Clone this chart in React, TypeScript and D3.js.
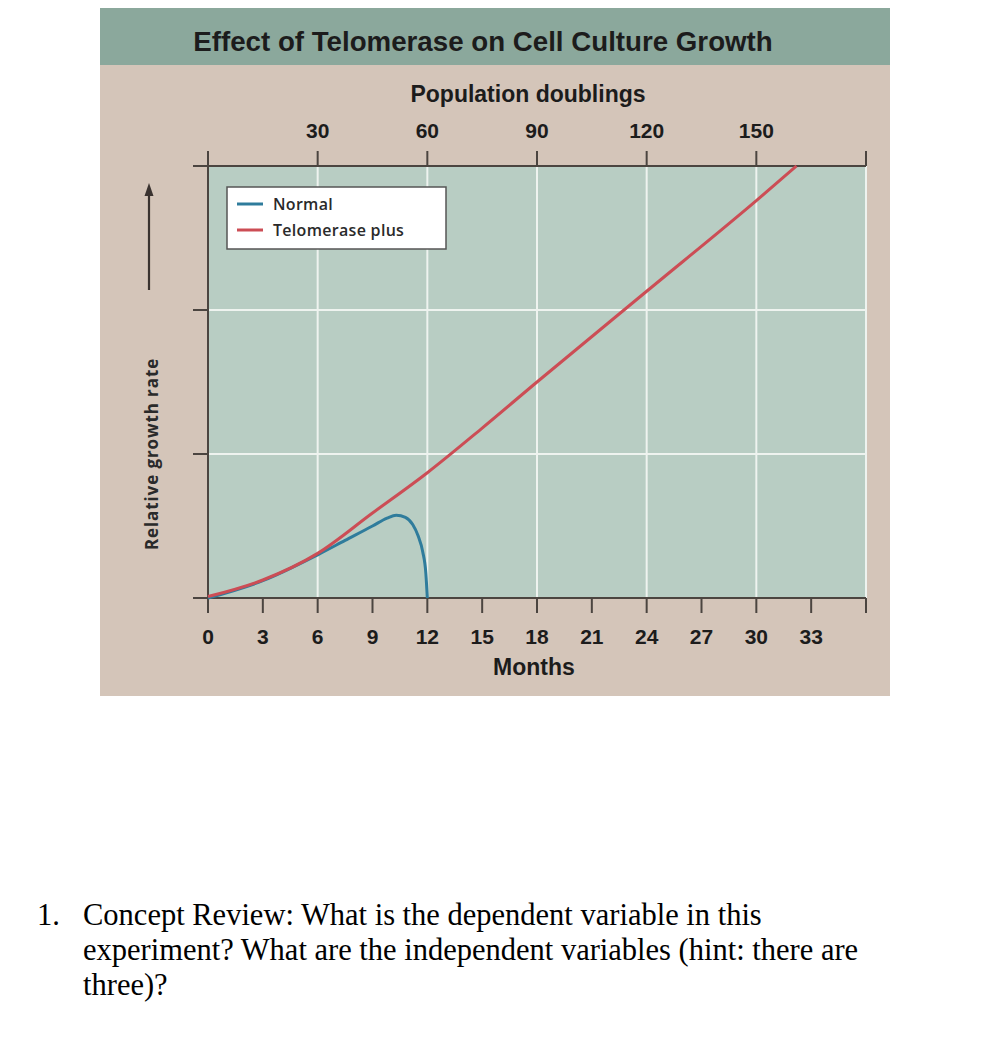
import React from "react";
import * as d3 from "d3";

const monthTicks = [0, 3, 6, 9, 12, 15, 18, 21, 24, 27, 30, 33, 36];
const doublingTicks = [0, 30, 60, 90, 120, 150, 180];
const rateTicks = [0, 1, 2, 3];

const normalMonths = [0, 3, 6, 7.5, 9, 9.8, 10.3, 10.8, 11.2, 11.5, 11.75, 11.92, 12];
const normalValues = [0, 0.12, 0.3, 0.4, 0.5, 0.555, 0.575, 0.56, 0.51, 0.43, 0.32, 0.17, 0];

const plusMonths = [0, 3, 6, 9, 12, 15, 18, 24, 30, 32.2];
const plusValues = [0.01, 0.125, 0.31, 0.59, 0.87, 1.18, 1.5, 2.13, 2.76, 3.0];

const seriesNames = ["Normal", "Telomerase plus"];
const seriesColors = ["#2f7c9c", "#cc4d55"];

const titleText = "Effect of Telomerase on Cell Culture Growth";
const questionLines = [
  "Concept Review: What is the dependent variable in this",
  "experiment? What are the independent variables (hint: there are",
  "three)?",
];

const sans = "'Liberation Sans', Arial, sans-serif";
const humanist = "'Open Sans', 'Noto Sans', sans-serif";

export default function App() {
  const left = 208, right = 866, top = 166, bottom = 598;
  const x = d3.scaleLinear().domain([0, 36]).range([left, right]);
  const xTop = d3.scaleLinear().domain([0, 180]).range([left, right]);
  const y = d3.scaleLinear().domain([0, 3]).range([bottom, top]);

  const line = d3
    .line<[number, number]>()
    .x((d) => x(d[0]))
    .y((d) => y(d[1]))
    .curve(d3.curveMonotoneX);

  const normalPts = normalMonths.map((m, i) => [m, normalValues[i]] as [number, number]);
  const plusPts = plusMonths.map((m, i) => [m, plusValues[i]] as [number, number]);

  const axisColor = "#4b4540";
  const grid = "#eef3ef";

  return (
    <svg
      width={1002}
      height={1058}
      style={{ position: "absolute", left: 0, top: 0 }}
    >
      <rect x={0} y={0} width={1002} height={1058} fill="#ffffff" />
      {/* panel */}
      <rect x={100} y={8} width={790} height={688} fill="#d4c5b9" />
      <rect x={100} y={8} width={790} height={57} fill="#8ba89c" />
      <text
        x={483}
        y={51}
        textAnchor="middle"
        fontFamily={sans}
        fontWeight="bold"
        fontSize={27.7}
        fill="#1c1c1c"
      >
        {titleText}
      </text>

      {/* plot area */}
      <rect x={left} y={top} width={right - left} height={bottom - top} fill="#b8cdc3" />
      {monthTicks
        .filter((m) => m > 0 && m % 6 === 0)
        .map((m) => (
          <line key={"gv" + m} x1={x(m)} x2={x(m)} y1={top} y2={bottom} stroke={grid} strokeWidth={2} />
        ))}
      {rateTicks
        .filter((r) => r > 0 && r < 3)
        .map((r) => (
          <line key={"gh" + r} x1={left} x2={right} y1={y(r)} y2={y(r)} stroke={grid} strokeWidth={2} />
        ))}

      {/* axes */}
      <line x1={193} x2={right} y1={top} y2={top} stroke={axisColor} strokeWidth={2} />
      <line x1={193} x2={right} y1={bottom} y2={bottom} stroke={axisColor} strokeWidth={2} />
      <line x1={left} x2={left} y1={152} y2={612} stroke={axisColor} strokeWidth={2} />
      {doublingTicks.map((d) => (
        <line key={"tt" + d} x1={xTop(d)} x2={xTop(d)} y1={top - 15} y2={top} stroke={axisColor} strokeWidth={2} />
      ))}
      {doublingTicks
        .filter((d) => d > 0 && d < 180)
        .map((d) => (
          <text
            key={"tl" + d}
            x={xTop(d)}
            y={138}
            textAnchor="middle"
            fontFamily={sans}
            fontWeight="bold"
            fontSize={21}
            fill="#1c1c1c"
          >
            {d}
          </text>
        ))}
      <text x={528} y={102} textAnchor="middle" fontFamily={sans} fontWeight="bold" fontSize={23} fill="#1c1c1c">
        Population doublings
      </text>
      {monthTicks.map((m) => (
        <line key={"bt" + m} x1={x(m)} x2={x(m)} y1={bottom} y2={bottom + 15} stroke={axisColor} strokeWidth={2} />
      ))}
      {monthTicks
        .filter((m) => m < 36)
        .map((m) => (
          <text
            key={"bl" + m}
            x={x(m)}
            y={644}
            textAnchor="middle"
            fontFamily={sans}
            fontWeight="bold"
            fontSize={21}
            fill="#1c1c1c"
          >
            {m}
          </text>
        ))}
      <text x={534} y={675} textAnchor="middle" fontFamily={sans} fontWeight="bold" fontSize={23} fill="#1c1c1c">
        Months
      </text>
      {rateTicks.map((r) => (
        <line key={"lt" + r} x1={193} x2={left} y1={y(r)} y2={y(r)} stroke={axisColor} strokeWidth={2} />
      ))}

      {/* y label + arrow */}
      <text
        transform="translate(158,454) rotate(-90)"
        textAnchor="middle"
        fontFamily={humanist}
        fontWeight="bold"
        fontSize={17}
        letterSpacing={0.9}
        fill="#2a2a2a"
      >
        Relative growth rate
      </text>
      <line x1={149} x2={149} y1={290} y2={194} stroke="#3a3330" strokeWidth={2.2} />
      <path d="M149,183 L144.5,196 L153.5,196 Z" fill="#3a3330" />

      {/* series */}
      <path d={line(normalPts) || ""} fill="none" stroke={seriesColors[0]} strokeWidth={3} />
      <path d={line(plusPts) || ""} fill="none" stroke={seriesColors[1]} strokeWidth={3} />

      {/* legend */}
      <rect x={227} y={187} width={219} height={62} fill="#ffffff" stroke="#555" strokeWidth={1.5} />
      {seriesNames.map((n, i) => (
        <g key={n}>
          <line x1={237} x2={263} y1={204 + i * 26} y2={204 + i * 26} stroke={seriesColors[i]} strokeWidth={3} />
          <text x={273} y={209.5 + i * 26} fontFamily={humanist} fontWeight={600} fontSize={16} letterSpacing={0.3} fill="#2a2a2a">
            {n}
          </text>
        </g>
      ))}

      {/* question */}
      <g fontFamily="'Liberation Serif', 'Times New Roman', serif" fontSize={30.5} fill="#000">
        <text x={37} y={925}>1.</text>
        {questionLines.map((l, i) => (
          <text key={i} x={83} y={925 + i * 35}>
            {l}
          </text>
        ))}
      </g>
    </svg>
  );
}
